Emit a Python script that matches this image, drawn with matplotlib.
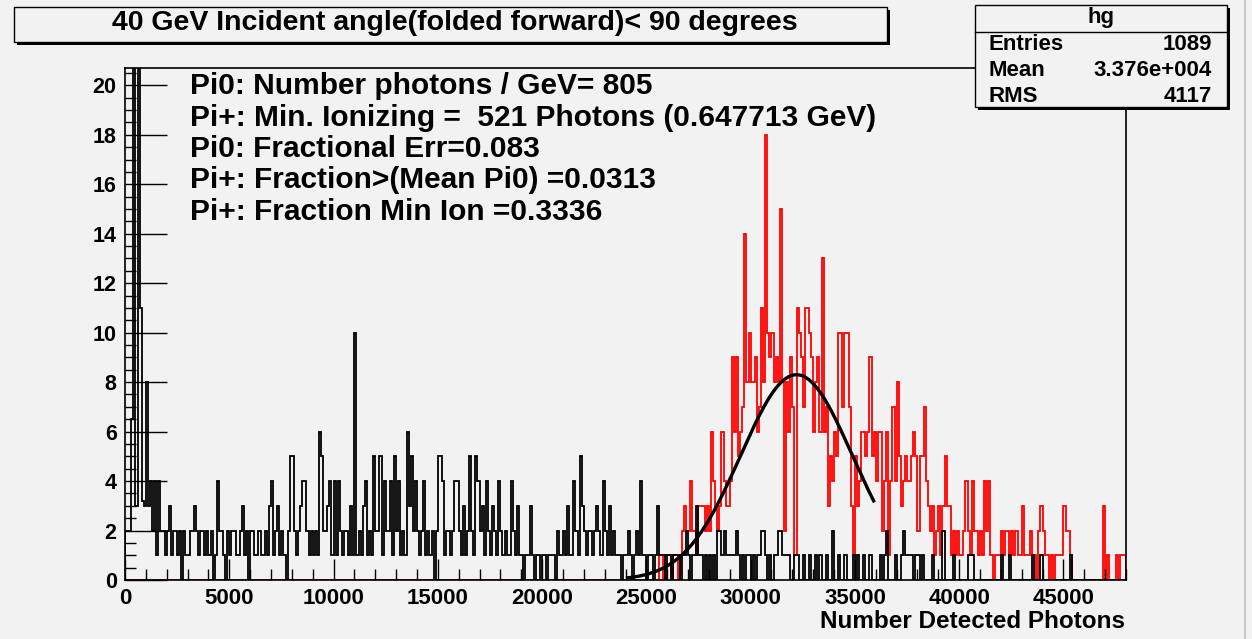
import numpy as np
import matplotlib.pyplot as plt
from matplotlib.patches import Rectangle

W, H = 1252, 639
bg = '#f2f2f2'
plt.rcParams['font.family'] = ['Liberation Sans', 'DejaVu Sans']
plt.rcParams['font.weight'] = 'bold'

#Histogram binning (100 photons per bin, 0 - 48000)
bin_width = 100
x_max = 48000

black_rows = [
    [2,2,2,6.5,25,3,28,11,3.2,3,8,3,4,2,4,1,4,2,2,1],
    [2,3,1,2,2,1,2,0,2,1,1,2,2,3,2,1,2,2,1,2],
    [1,2,0,1,4,2,2,1,0,2,1,2,2,1,1,2,3,1,2,0],
    [2,2,1,1,2,1,1,2,1,3,4,1,2,3,1,2,1,0,2,5],
    [5,2,1,2,3,4,4,2,1,2,1,2,1,6,5,2,2,3,4,1],
    [4,1,4,2,1,2,2,1,3,1,10,1,2,1,3,4,1,2,1,5],
    [2,2,5,1,4,2,2,4,1,5,2,4,1,2,1,6,3,5,2,4],
    [2,1,2,4,1,2,1,2,0,2,5,5,4,1,2,2,1,2,4,4],
    [2,1,3,1,2,5,2,1,5,4,2,3,1,4,2,1,3,2,1,4],
    [2,1,2,1,1,4,2,1,3,1,1,0,1,1,3,1,0,1,1,0],
    [1,1,0,1,1,1,0,2,1,1,2,1,3,1,1,4,2,1,5,3],
    [2,1,2,2,1,2,3,2,1,4,2,1,3,1,2,1,1,1,0,1],
    [1,2,1,0,1,2,1,4,1,1,0,1,1,0,1,3,1,1,1,0],
    [1,1,0,1,1,1,0,1,1,2,1,0,1,1,3,1,1,0,1,0],
    [1,0,1,0,2,2,1,2,1,1,1,1,1,2,1,0,1,0,1,1],
    [0,1,0,1,1,2,2,1,0,1,0,1,1,2,2,1,1,1,1,0],
    [0,1,1,0,0,1,0,0,1,0,0,1,0,1,0,0,1,0,0,2],
    [0,0,1,0,0,1,0,0,0,1,0,1,0,0,1,0,0,1,0,0],
    [0,0,1,0,1,2,0,0,0,1,0,0,1,2,1,1,1,1,0,1],
    [1,0,1,0,0,0,0,1,0,0,0,0,2,0,0,0,0,1,0,0],
    [0,0,0,0,1,1,1,0,0,0,0,0,0,0,0,0,0,0,0,0],
    [1,0,0,0,1,0,0,0,0,0,0,0,0,0,0,1,0,0,0,1],
    [0,0,0,0,0,0,0,0,0,0,0,0,0,1,0,0,0,0,0,0],
    [0,0,0,0,0,0,0,0,0,0,0,0,0,0,0,0,0,0,0,0],
]

#Red histogram (Pi+), empty below 24000
red_rows = [[0]*20]*12 + [
    [0,0,0,0,0,0,0,0,0,0,0,0,0,0,0,0,1,1,0,1],
    [1,1,0,1,1,0,1,2,3,2,2,4,2,2,1,3,3,3,2,3],
    [2,6,4,3,2,3,6,4,3,3,4,9,6,9,5,6,7,14,8,10],
    [8,8,9,6,7,11,8,18,10,9,10,8,9,8,15,8,2,8,6,9],
    [7,1,11,10,9,7,11,11,10,9,6,8,9,6,13,6,7,3,5,4],
    [6,5,10,10,7,10,10,7,3,1,5,3,4,6,6,5,6,9,5,6],
    [4,6,6,2,4,6,1,4,7,4,8,5,3,4,5,4,4,5,6,5],
    [2,5,5,7,4,3,2,3,1,2,3,1,3,5,3,3,1,2,1,2],
    [1,1,2,4,2,1,4,2,2,1,2,1,4,2,4,1,0,1,1,1],
    [2,1,2,2,1,2,1,2,1,1,3,1,1,1,2,1,1,0,2,3],
    [2,1,1,0,1,0,1,1,1,1,3,2,2,1,0,0,0,0,0,0],
    [0,0,0,0,0,0,0,0,0,3,0,1,0,0,0,1,0,1,1,1],
]

#Gaussian fit drawn over the red histogram
fit_amp = 8.3
fit_mean = 32200
fit_sigma = 2680
fit_range = (24100, 35900)

title = "40 GeV Incident angle(folded forward)< 90 degrees"
info_lines = ["Pi0: Number photons / GeV= 805",
              "Pi+: Min. Ionizing =  521 Photons (0.647713 GeV)",
              "Pi0: Fractional Err=0.083",
              "Pi+: Fraction>(Mean Pi0) =0.0313",
              "Pi+: Fraction Min Ion =0.3336"]
stats_name = "hg"
stats_labels = ["Entries", "Mean", "RMS"]
stats_values = ["1089", "3.376e+004", "4117"]

black = np.array([v for row in black_rows for v in row], dtype=float)
red = np.array([v for row in red_rows for v in row], dtype=float)
edges = np.arange(0, x_max + bin_width, bin_width)

#pixel -> figure coords
def fx(x):
    return x / W
def fy(y):
    return 1 - y / H

fig = plt.figure(figsize=(W/100, H/100), dpi=100, facecolor=bg)
ax = fig.add_axes([fx(125), fy(580), (1126-125)/W, (580-68)/H])
ax.set_facecolor(bg)

ax.stairs(red, edges, color='red', lw=1.3)
ax.stairs(black, edges, color='black', lw=1.3)
xf = np.linspace(fit_range[0], fit_range[1], 300)
yf = fit_amp*np.exp(-0.5*((xf-fit_mean)/fit_sigma)**2)
ax.plot(xf, yf, color='black', lw=2.4)

ax.set_xlim(0, x_max)
ax.set_ylim(0, 20.7)
ax.set_xticks(np.arange(0, 45001, 5000))
ax.set_xticks(np.arange(0, 48001, 1000), minor=True)
ax.set_yticks(np.arange(0, 21, 2))
ax.set_yticks(np.arange(0, 20.7, 0.5), minor=True)
ax.tick_params(axis='x', which='major', direction='in', length=15, width=1, labelsize=16, pad=6)
ax.tick_params(axis='x', which='minor', direction='in', length=8, width=1)
ax.tick_params(axis='y', which='major', direction='in', length=30, width=1, labelsize=15.5, pad=6)
ax.tick_params(axis='y', which='minor', direction='in', length=8, width=1)
for lab in ax.get_xticklabels() + ax.get_yticklabels():
    lab.set_fontweight('bold')
for s in ax.spines.values():
    s.set_linewidth(1.2)
fig.text(fx(1125), fy(622), "Number Detected Photons", ha='right', va='center',
         fontsize=17.5, fontweight='bold')

#Text block inside the plot
for i, line in enumerate(info_lines):
    fig.text(fx(190), fy(86 + i*31.5), line, ha='left', va='center',
             fontsize=21.5, fontweight='bold')

#Title box with shadow
fig.patches.append(Rectangle((fx(17), fy(45)), (887-14)/W, (45-10)/H,
                             transform=fig.transFigure, facecolor='black', edgecolor='none'))
fig.patches.append(Rectangle((fx(14), fy(42)), (887-14)/W, (42-7)/H,
                             transform=fig.transFigure, facecolor=bg, edgecolor='black', lw=1))
fig.text(fx(455), fy(23), title, ha='center', va='center', fontsize=20.5, fontweight='bold')

#Stats box with shadow
fig.patches.append(Rectangle((fx(978), fy(110)), (1227-975)/W, (110-8)/H,
                             transform=fig.transFigure, facecolor='black', edgecolor='none'))
fig.patches.append(Rectangle((fx(975), fy(107)), (1227-975)/W, (107-5)/H,
                             transform=fig.transFigure, facecolor=bg, edgecolor='black', lw=1))
fig.add_artist(plt.Line2D([fx(975), fx(1227)], [fy(32), fy(32)], color='black', lw=1,
                          transform=fig.transFigure))
fig.text(fx(1101), fy(18), stats_name, ha='center', va='center', fontsize=16, fontweight='bold')
for i in range(len(stats_labels)):
    y = fy(45 + i*25.5)
    fig.text(fx(988), y, stats_labels[i], ha='left', va='center', fontsize=16, fontweight='bold')
    fig.text(fx(1212), y, stats_values[i], ha='right', va='center', fontsize=16, fontweight='bold')

#right edge of the canvas window
fig.add_artist(plt.Line2D([fx(1245), fx(1245)], [0, 1], color='#c8c8c8', lw=1.5,
                          transform=fig.transFigure))

fig.savefig('out.png', dpi=100, facecolor=bg)
